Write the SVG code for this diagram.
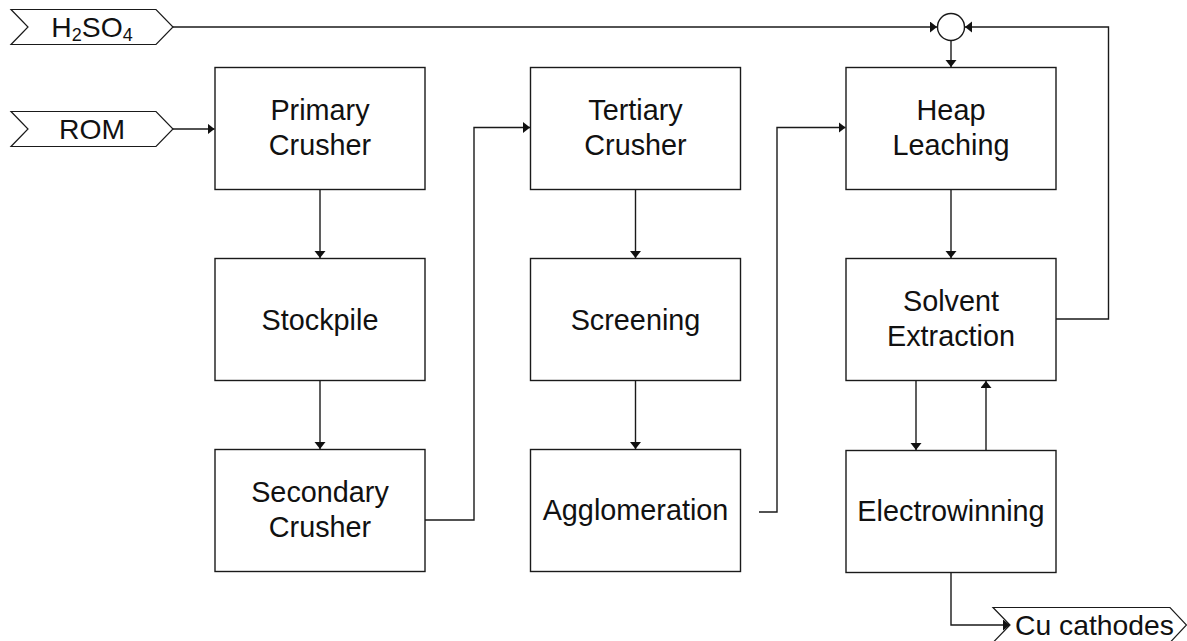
<svg xmlns="http://www.w3.org/2000/svg" width="1187" height="641" viewBox="0 0 1187 641">
<style>
.box{fill:#fff;stroke:#1a1a1a;stroke-width:1.4}
.tag{fill:#fff;stroke:#1a1a1a;stroke-width:1.2}
.lbl{font-family:"Liberation Sans",Arial,sans-serif;font-size:28.8px;fill:#111;text-anchor:middle}
.tl{font-size:28.3px}
.ln{fill:none;stroke:#1a1a1a;stroke-width:1.4}
</style>
<defs>
<marker id="ah" markerUnits="userSpaceOnUse" markerWidth="8" markerHeight="12" refX="7" refY="5.5" orient="auto">
<path d="M0,0 L7,5.5 L0,11 z" fill="#111"/>
</marker>
</defs>
<rect width="1187" height="641" fill="#fff"/>
<g id="connectors">
<path class="ln" d="M173,129 H214.5" marker-end="url(#ah)"/>
<path class="ln" d="M173,27 H937" marker-end="url(#ah)"/>
<path class="ln" d="M951,40.5 V67" marker-end="url(#ah)"/>
<path class="ln" d="M1056,319 H1108.5 V27 H965" marker-end="url(#ah)"/>
<path class="ln" d="M320,189.5 V258" marker-end="url(#ah)"/>
<path class="ln" d="M320,380.5 V449" marker-end="url(#ah)"/>
<path class="ln" d="M425,520 H474 V127.5 H530" marker-end="url(#ah)"/>
<path class="ln" d="M635.5,189.5 V258" marker-end="url(#ah)"/>
<path class="ln" d="M635.5,380.5 V449" marker-end="url(#ah)"/>
<path class="ln" d="M759,512 H777 V127.5 H845.5" marker-end="url(#ah)"/>
<path class="ln" d="M951,189.5 V258" marker-end="url(#ah)"/>
<path class="ln" d="M916,380.5 V450" marker-end="url(#ah)"/>
<path class="ln" d="M986,450.5 V381" marker-end="url(#ah)"/>
<path class="ln" d="M951,572 V625 H1010" marker-end="url(#ah)"/>
</g>
<g id="h2so4">
<polygon class="tag" points="11,9.5 156,9.5 173,27 156,44.5 11,44.5 28,27"/>
<text class="lbl tl" x="92" y="37">H<tspan font-size="18" dy="4">2</tspan><tspan dy="-4">SO</tspan><tspan font-size="18" dy="4">4</tspan></text>
</g>
<g id="rom">
<polygon class="tag" points="11,111.5 156,111.5 173,129 156,146.5 11,146.5 28,129"/>
<text class="lbl tl" x="92" y="138.5">ROM</text>
</g>
<g id="cu">
<polygon class="tag" points="993,607.5 1170,607.5 1186.5,625 1170,642.5 993,642.5 1010,625"/>
<text class="lbl tl" x="1015" y="635" style="text-anchor:start">Cu cathodes</text>
</g>
<g id="mixer">
<circle cx="951" cy="27" r="13.5" fill="#fff" stroke="#1a1a1a" stroke-width="1.4"/>
</g>
<g id="primary">
<rect class="box" x="215" y="67.5" width="210" height="122"/>
<text class="lbl" x="320" y="119.5">Primary</text>
<text class="lbl" x="320" y="154.5">Crusher</text>
</g>
<g id="stockpile">
<rect class="box" x="215" y="258.5" width="210" height="122"/>
<text class="lbl" x="320" y="329.5">Stockpile</text>
</g>
<g id="secondary">
<rect class="box" x="215" y="449.5" width="210" height="122"/>
<text class="lbl" x="320" y="501.5">Secondary</text>
<text class="lbl" x="320" y="536.5">Crusher</text>
</g>
<g id="tertiary">
<rect class="box" x="530.5" y="67.5" width="210" height="122"/>
<text class="lbl" x="635.5" y="119.5">Tertiary</text>
<text class="lbl" x="635.5" y="154.5">Crusher</text>
</g>
<g id="screening">
<rect class="box" x="530.5" y="258.5" width="210" height="122"/>
<text class="lbl" x="635.5" y="329.5">Screening</text>
</g>
<g id="agglomeration">
<rect class="box" x="530.5" y="449.5" width="210" height="122"/>
<text class="lbl" x="635.5" y="520">Agglomeration</text>
</g>
<g id="heap">
<rect class="box" x="846" y="67.5" width="210" height="122"/>
<text class="lbl" x="951" y="119.5">Heap</text>
<text class="lbl" x="951" y="154.5">Leaching</text>
</g>
<g id="solvent">
<rect class="box" x="846" y="258.5" width="210" height="122"/>
<text class="lbl" x="951" y="310.5">Solvent</text>
<text class="lbl" x="951" y="345.5">Extraction</text>
</g>
<g id="electrowinning">
<rect class="box" x="846" y="450.5" width="210" height="122"/>
<text class="lbl" x="951" y="521">Electrowinning</text>
</g>
</svg>
